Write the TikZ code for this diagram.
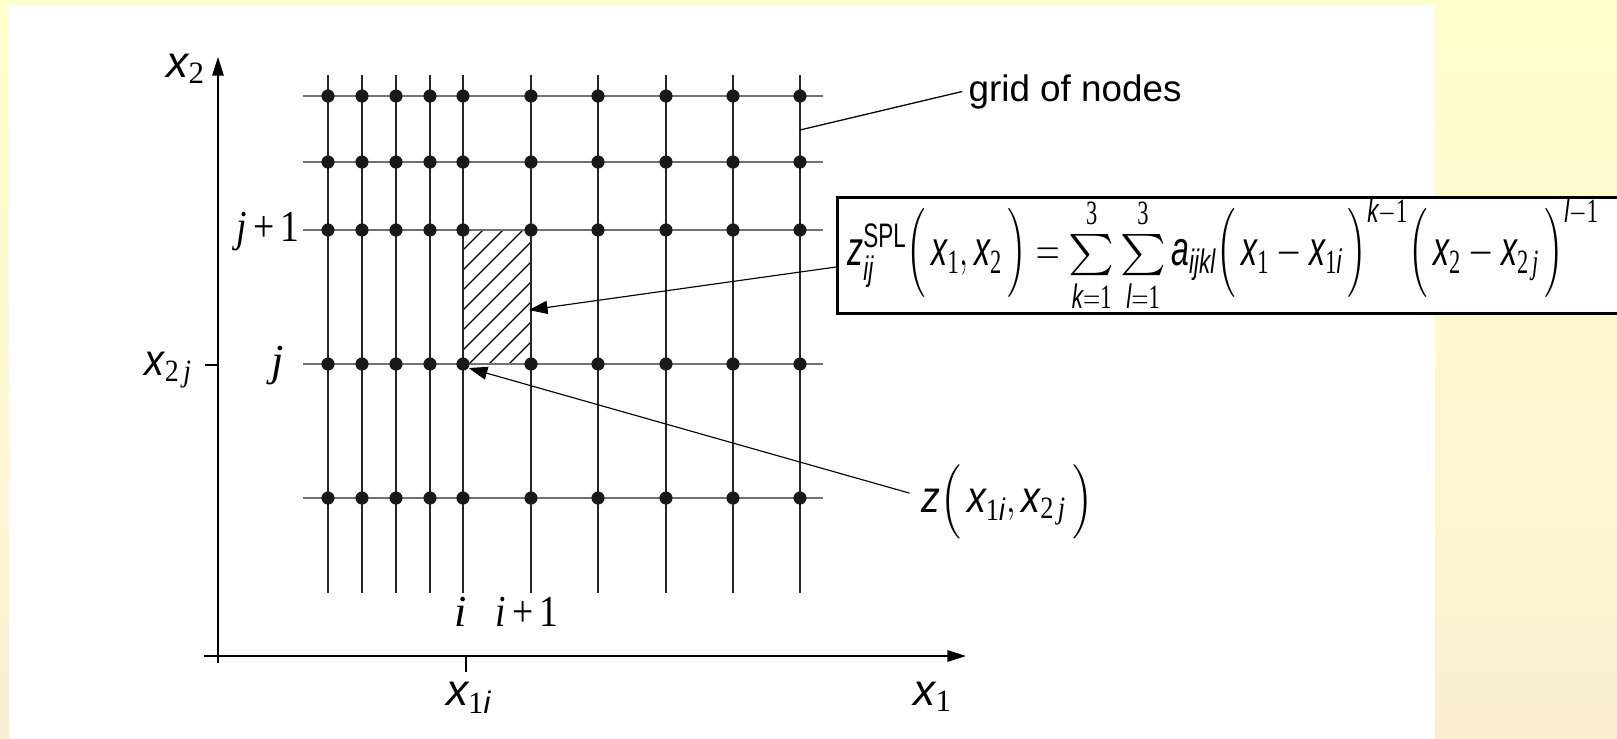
\documentclass[tikz,border=0pt]{standalone}
\usepackage{amsmath}
\usepackage{graphicx}
\usepackage{fontspec}
\setmainfont{Liberation Sans}
\newfontfamily\tmsfont{Liberation Serif}
\usetikzlibrary{arrows.meta}
\definecolor{bgtop}{HTML}{FFFFCC}
\definecolor{bgbot}{HTML}{FCEFD3}
\newcommand{\tnum}[1]{\text{\tmsfont #1}}
\newcommand{\svar}[1]{\textit{#1}}
\newcommand{\tvar}[1]{\text{\tmsfont\itshape #1}}
\newcommand{\narrow}[2][0.85]{\scalebox{#1}[1]{#2}}
\newcommand{\bigsum}{\mathop{\text{\scalebox{1.6}[1]{\fontsize{14.5}{14.5}\selectfont$\sum$}}}\limits}
\tikzset{
  knot/.style={
    shape = circle,
    fill = black!90,
    inner sep = 0pt,
    minimum size = 4.6pt
  },
  gline/.style={black!55, line width=0.7pt},
  vline/.style={black!85, line width=0.4pt},
  axis/.style={line width=0.45pt, -{Triangle[length=6.5pt,width=4pt]}},
  pointer/.style={line width=0.4pt, -{Triangle[length=6.5pt,width=4.6pt]}},
  lab/.style={inner sep=0pt, font=\fontsize{15.5}{18}\selectfont},
  note/.style={inner sep=0pt, font=\fontsize{12.9}{15}\selectfont},
  eqbox/.style={
    draw,
    fill = white,
    line width = 1pt,
    inner xsep = 3.5pt,
    inner ysep = 0pt,
    minimum height = 38pt,
    text width = 400pt,
    align = left,
    font = \fontsize{17}{20}\selectfont
  }
}
\begin{document}
\begin{tikzpicture}[x=0.35pt,y=-0.35pt]
  \useasboundingbox (0,0) rectangle (1617,739);
  \clip (0,0) rectangle (1617,739);
  \shade[top color=bgtop, bottom color=bgbot] (0,0) rectangle (1617,739);
  \fill[white] (9,5) rectangle (1435,745);

  % axes
  \draw[axis] (204,656) -- (966,656);
  \draw[axis] (218,663) -- (218,57);
  \draw[line width=0.45pt] (466,656) -- (466,672);
  \draw[line width=0.45pt] (205,365) -- (218,365);

  % hatched cell
  \begin{scope}
    \clip (463,230) rectangle (531,364);
    \foreach \t in {0,...,11}
      \draw[line width=0.4pt] (473+20*\t,220) -- (313+20*\t,380);
  \end{scope}

  % grid
  \foreach \x in {328,362,396,430,463,531,598,666,733,800}
    \draw[vline] (\x,75) -- (\x,593);
  \foreach \y in {96,162,230,364,498}
    \draw[gline] (303,\y) -- (823,\y);
  \foreach \c/\x in {1/328,2/362,3/396,4/430,5/463,6/531,7/598,8/666,9/733,10/800}
    \foreach \r/\y in {1/96,2/162,3/230,4/364,5/498}
      \node[knot] (k\c-\r) at (\x,\y) {};

  % labels
  \node[lab, anchor=base] (x2lab) at (186,77) {$\svar{x}_{\tnum{2}}$};
  \node[lab, anchor=base east] (x2jlab) at (193,375) {\narrow[0.9]{$\svar{x}_{\tnum{2}\,\tvar{j}}$}};
  \node[lab, anchor=base] (jlab) at (278,375) {$\tvar{j}$};
  \node[lab, anchor=base east] (j1lab) at (300,241) {\narrow{\tmsfont\itshape j\upshape\,+\,1}};
  \node[lab, anchor=base] (ilab) at (461,626) {\tmsfont\itshape i};
  \node[lab, anchor=base west] (i1lab) at (495,626) {\narrow{\tmsfont\itshape i\upshape\,+\,1}};
  \node[lab, anchor=base] (x1ilab) at (469,705) {$\svar{x}_{\tnum{1}\svar{i}}$};
  \node[lab, anchor=base] (x1lab) at (933,705) {$\svar{x}_{\tnum{1}}$};
  \node[note, anchor=base west] (gon) at (968,101) {grid of nodes};
  \node[lab, anchor=base west] (zl) at (921,512)
    {\narrow{$\svar{z}\Bigl(\,\svar{x}_{\tnum{1}\svar{i}},\svar{x}_{\tnum{2}\,\tvar{j}}\,\Bigr)$}};
  \node[eqbox, anchor=north west] (eq) at (836,196)
    {\narrow[0.66]{$\svar{z}_{\svar{ij}}^{\text{SPL}}\Bigl(\,\svar{x}_{\tnum{1}},\svar{x}_{\tnum{2}}\,\Bigr)
      =\bigsum_{\svar{k}=\tnum{1}}^{\tnum{3}}\bigsum_{\svar{l}=\tnum{1}}^{\tnum{3}}\svar{a}_{\svar{ijkl}}
      \Bigl(\,\svar{x}_{\tnum{1}}-\svar{x}_{\tnum{1}\svar{i}}\,\Bigr)^{\svar{k}-\tnum{1}}
      \Bigl(\,\svar{x}_{\tnum{2}}-\svar{x}_{\tnum{2}\,\tvar{j}}\,\Bigr)^{\svar{l}-\tnum{1}}$}};

  % leaders
  \coordinate (gridpt) at (800,130);
  \coordinate (cellpt) at (529,310);
  \draw[line width=0.45pt] (gridpt) -- ([xshift=-2pt]gon.west);
  \draw[pointer] ([yshift=-4pt]eq.west) -- (cellpt);
  \draw[pointer] ([xshift=-4pt,yshift=3pt]zl.west) -- (k5-4.-35);
\end{tikzpicture}
\end{document}
